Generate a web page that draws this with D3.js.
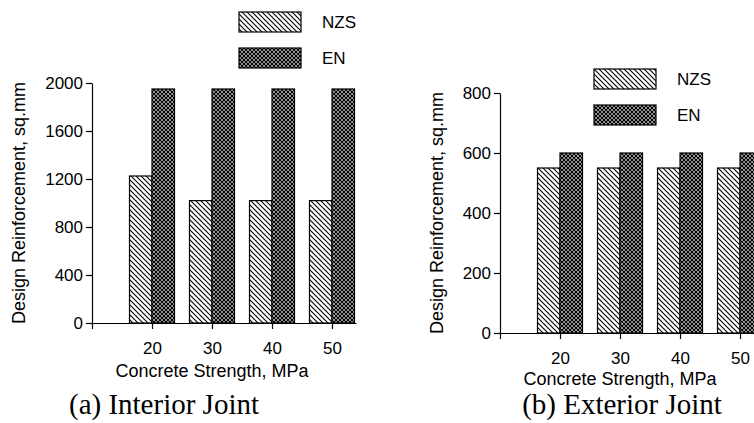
<!DOCTYPE html>
<html>
<head>
<meta charset="utf-8">
<script src="https://cdn.jsdelivr.net/npm/d3@7"></script>
<style>
  body { margin: 0; background: #fff; }
  svg { display: block; }
  .axis text { font-family: "Liberation Sans", Arial, sans-serif; font-size: 17px; fill: #000; }
  .axis path, .axis line { stroke: #000; stroke-width: 1.2; }
</style>
</head>
<body>
<div id="chart"></div>
<script>
// Data
const strengths = [20, 30, 40, 50];
const seriesNames = ["NZS", "EN"];
const interiorNZS = [1225, 1020, 1020, 1020];
const interiorEN = [1950, 1950, 1950, 1950];
const exteriorNZS = [550, 550, 550, 550];
const exteriorEN = [600, 600, 600, 600];
const interiorTicks = [0, 400, 800, 1200, 1600, 2000];
const exteriorTicks = [0, 200, 400, 600, 800];

const width = 754;
const height = 423;

const svg = d3.select("#chart")
    .append("svg")
    .attr("width", width)
    .attr("height", height);

// Hatch patterns
const defs = svg.append("defs");

const nzs = defs.append("pattern")
    .attr("id", "hatch-nzs")
    .attr("patternUnits", "userSpaceOnUse")
    .attr("width", 5)
    .attr("height", 5);
nzs.append("rect").attr("width", 5).attr("height", 5).attr("fill", "#fff");
nzs.append("path")
    .attr("d", "M-1,-1L6,6M4,-1L6,1M-1,4L1,6")
    .attr("stroke", "#000")
    .attr("stroke-width", 1.1);

const en = defs.append("pattern")
    .attr("id", "hatch-en")
    .attr("patternUnits", "userSpaceOnUse")
    .attr("width", 4)
    .attr("height", 4);
en.append("rect").attr("width", 4).attr("height", 4).attr("fill", "#fff");
en.append("path")
    .attr("d", "M-1,-1L5,5M3,-1L5,1M-1,3L1,5M-1,5L5,-1M-1,1L1,-1M3,5L5,3")
    .attr("stroke", "#000")
    .attr("stroke-width", 1.3);

const fills = ["url(#hatch-nzs)", "url(#hatch-en)"];

function drawPanel(cfg) {
    const g = svg.append("g");

    const x = d3.scaleLinear()
        .domain([10, cfg.xMax])
        .range([cfg.left, cfg.right]);

    const y = d3.scaleLinear()
        .domain([0, cfg.yMax])
        .range([cfg.bottom, cfg.top]);

    const barW = 3.75; // in strength units

    // Bars
    const series = [cfg.nzs, cfg.en];
    series.forEach((vals, si) => {
        g.selectAll(".bar-" + si)
            .data(strengths)
            .enter()
            .append("rect")
            .attr("x", d => si === 0 ? x(d - barW) : x(d))
            .attr("width", x(10 + barW) - x(10))
            .attr("y", (d, i) => y(vals[i]))
            .attr("height", (d, i) => y(0) - y(vals[i]))
            .attr("fill", fills[si])
            .attr("stroke", "#000")
            .attr("stroke-width", 1.2);
    });

    // Axes
    g.append("g")
        .attr("class", "axis")
        .attr("transform", `translate(${cfg.left},0)`)
        .call(d3.axisLeft(y)
            .tickValues(cfg.yTicks)
            .tickFormat(d3.format("d"))
            .tickSize(6)
            .tickSizeOuter(0)
            .tickPadding(3));

    g.append("g")
        .attr("class", "axis")
        .attr("transform", `translate(0,${cfg.bottom})`)
        .call(d3.axisBottom(x)
            .tickValues([10].concat(strengths))
            .tickFormat(d => d === 10 ? "" : d)
            .tickSize(6)
            .tickSizeOuter(0)
            .tickPadding(13));

    // Axis titles
    g.append("text")
        .attr("x", d3.mean(x.range()) - cfg.titleShift)
        .attr("y", cfg.bottom + cfg.xTitleDy)
        .attr("text-anchor", "middle")
        .style("font-family", "Liberation Sans, Arial, sans-serif")
        .style("font-size", "18px")
        .text("Concrete Strength, MPa");

    g.append("text")
        .attr("transform", `translate(${cfg.yTitleX},${(cfg.top + cfg.bottom) / 2}) rotate(-90)`)
        .attr("text-anchor", "middle")
        .attr("dy", "0.35em")
        .style("font-family", "Liberation Sans, Arial, sans-serif")
        .style("font-size", "18px")
        .text("Design Reinforcement, sq.mm");

    // Legend
    seriesNames.forEach((name, i) => {
        g.append("rect")
            .attr("x", cfg.legendX)
            .attr("y", cfg.legendY + i * 36)
            .attr("width", 62)
            .attr("height", 20)
            .attr("fill", fills[i])
            .attr("stroke", "#000")
            .attr("stroke-width", 1.2);
        g.append("text")
            .attr("x", cfg.legendX + 83)
            .attr("y", cfg.legendY + i * 36 + 10)
            .attr("dy", "0.35em")
            .style("font-family", "Liberation Sans, Arial, sans-serif")
            .style("font-size", "17px")
            .text(name);
    });

    // Caption
    g.append("text")
        .attr("x", cfg.captionX)
        .attr("y", 414)
        .attr("text-anchor", "middle")
        .style("font-family", "Liberation Serif, Times New Roman, serif")
        .style("font-size", "29px")
        .text(cfg.caption);
}

drawPanel({
    nzs: interiorNZS, en: interiorEN, yTicks: interiorTicks, yMax: 2000,
    xMax: 54, left: 92, right: 356, top: 83, bottom: 323,
    xTitleDy: 54, titleShift: 12, yTitleX: 19,
    legendX: 239, legendY: 12,
    caption: "(a) Interior Joint", captionX: 164
});

drawPanel({
    nzs: exteriorNZS, en: exteriorEN, yTicks: exteriorTicks, yMax: 800,
    xMax: 52.33, left: 500, right: 754, top: 93, bottom: 333,
    xTitleDy: 52, titleShift: 7, yTitleX: 437,
    legendX: 594, legendY: 69,
    caption: "(b) Exterior Joint", captionX: 622
});
</script>
</body>
</html>
